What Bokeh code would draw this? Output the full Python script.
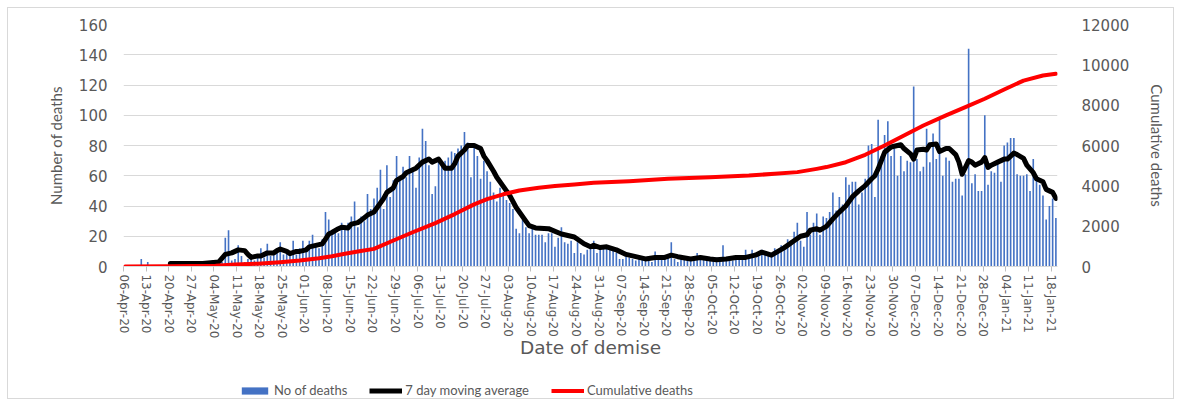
import pandas as pd
from bokeh.plotting import figure
from bokeh.layouts import column
from bokeh.models import (Range1d, LinearAxis, FixedTicker, DatetimeTickFormatter,
                          Legend, LegendItem)
from bokeh.embed import file_html
from bokeh.resources import INLINE

# ---------------- data ----------------
start_date = "2020-04-06"

# daily number of deaths, one value per day from 06-Apr-20
daily_deaths = [
    0, 0, 0, 0, 0, 5, 1,
    3, 0, 0, 0, 0, 1, 0,
    2, 1, 2, 3, 1, 2, 2,
    2, 1, 3, 2, 2, 1, 4,
    3, 2, 3, 19, 24, 4, 5,
    14, 7, 3, 5, 6, 4, 8,
    12, 6, 15, 7, 10, 9, 16,
    8, 9, 7, 17, 8, 12, 17,
    10, 17, 21, 13, 12, 18, 36,
    31, 24, 25, 22, 29, 27, 29,
    33, 43, 26, 33, 30,
    48, 38, 45, 52, 64, 38, 67, 46, 57, 73,
    59, 66, 59, 73, 64, 52, 72, 91, 83, 67,
    48, 53, 71, 66, 70, 72, 76, 75, 78, 80,
    89, 82, 59, 81, 73, 58, 70, 63, 56, 49,
    43, 52, 47, 44, 42, 38, 25, 22, 31, 26,
    22, 26, 21, 21, 21, 16, 22, 22, 13, 19,
    26, 16, 15, 17, 9, 16, 9, 8, 11,
    13, 17, 9, 13, 12, 13, 13, 11, 9, 5,
    5, 8, 6, 5, 4, 6, 7, 6, 4, 3,
    10, 5, 6, 5, 6, 16, 5, 3, 7, 6,
    6, 4, 5, 9, 6, 5, 4, 5, 4, 6,
    4, 14, 4, 5, 4, 5, 6, 6, 11, 7,
    11, 6, 8, 11, 9, 7, 9, 12, 11, 14,
    12, 18, 17, 23, 29, 17, 13, 36, 21, 29,
    35, 21, 33,
    32, 36, 49, 37, 46, 41, 59, 54, 56, 56,
    41, 49, 58, 80, 81, 46, 97, 73, 87, 96,
    73, 78, 60, 73, 63, 70, 69, 119, 71, 63,
    66, 91, 69, 88, 71, 97, 60, 72, 70, 56,
    58, 58, 47, 61, 144, 55, 61, 50, 50, 100,
    54, 63, 62, 69, 56, 80, 82, 85, 85, 61,
    60, 60, 61, 50, 71, 57, 54, 47, 31, 40,
    45, 32,
]

# 7 day moving average, read at these days (days since 06-Apr-20)
ma_day = [14, 19, 24, 29, 31, 33, 35, 37, 38, 39,
          41, 42, 44, 46, 47, 48, 50, 51, 53, 54,
          56, 57, 59, 61, 62, 63, 64, 66, 67, 69,
          70, 72, 73, 75, 77, 78, 80, 81, 83, 84,
          86, 87, 89, 90, 92, 94, 95, 97, 98, 99,
          101, 102, 103, 105, 106, 108, 110, 111, 112, 114,
          115, 118, 119, 121, 124, 125, 127, 131, 135, 137,
          139, 142, 144, 145, 147, 149, 152, 155, 158, 161,
          164, 167, 169, 171, 175, 178, 181, 183, 186, 189,
          192, 195, 197, 200, 202, 204, 207, 209, 211, 212,
          214, 215, 217, 219, 221, 223, 225, 227, 229, 231,
          232, 233, 234, 235, 237, 238, 240, 241, 243, 244,
          245, 247, 248, 249, 251, 252, 254, 255, 257, 258,
          259, 261, 262, 263, 265, 266, 267, 268, 270, 272,
          273, 275, 276, 278, 279, 281, 282, 284, 285, 287,
          288]
ma_value = [2, 2, 2, 3, 8, 9, 11, 10.5, 8, 6,
            7, 7, 9, 9, 10.5, 11.5, 10, 8.5, 10, 10,
            11, 13, 14, 15, 18, 21.5, 22.5, 25, 26, 25.5,
            28, 29, 30.5, 34, 36, 39, 45, 49, 52, 57,
            59.5, 62, 64, 65, 69, 71, 69, 71, 68, 65,
            65, 68, 73, 77, 80, 80, 78, 73, 70, 63,
            59, 50, 47, 39, 30, 27, 25.5, 25, 21.5, 20.5,
            19.5, 15, 13, 14, 12.5, 13, 11, 8, 6.5, 5,
            6, 6, 7.5, 6.5, 5, 6, 5, 4.5, 5, 6,
            6, 7.5, 9.5, 7.5, 10, 12.5, 17, 20, 21, 24,
            25, 24, 26.5, 31.5, 36, 40, 46, 50, 53.5, 58,
            60, 64.5, 70, 75.5, 79, 79.5, 80.5, 78, 74.5, 71,
            77, 77.5, 77, 80.5, 81, 76, 78, 78, 74, 69,
            61, 70, 69, 67, 69, 72, 65.5, 67, 69, 71,
            71, 75, 74, 71.5, 67, 62, 58, 56, 51, 49,
            45]

# cumulative deaths (right axis), read at these days (days since 06-Apr-20)
cum_day = [0, 14, 28, 34, 41, 48, 54, 60, 64, 68,
           72, 77, 83, 89, 96, 102, 108, 112, 117, 122,
           128, 133, 139, 145, 156, 168, 181, 193, 201, 208,
           214, 217, 223, 229, 235, 241, 247, 254, 260, 266,
           272, 278, 284, 288]
cum_value = [0, 15, 40, 100, 140, 215, 300, 410, 510, 630,
             745, 875, 1290, 1700, 2150, 2600, 3080, 3340, 3580, 3770,
             3910, 3990, 4070, 4150, 4230, 4350, 4430, 4510, 4600, 4680,
             4840, 4930, 5170, 5540, 6000, 6500, 6990, 7490, 7900, 8320,
             8780, 9220, 9470, 9560]

left_ticks = [0, 20, 40, 60, 80, 100, 120, 140, 160]
right_ticks = [0, 2000, 4000, 6000, 8000, 10000, 12000]
series_names = ["No of deaths", "7 day moving average", "Cumulative deaths"]

# ---------------- build ----------------
DAY = 86400000.0
t0 = pd.Timestamp(start_date)
t0_ms = t0.timestamp() * 1000.0
n_days = len(daily_deaths)

bar_x = [t0_ms + (i + 0.5) * DAY for i in range(n_days)]
ma_x = [t0_ms + (d + 0.5) * DAY for d in ma_day]
cum_x = [t0_ms + (d + 0.5) * DAY for d in cum_day]
tick_dates = [t0_ms + d * DAY for d in range(0, n_days, 7)]

GRAY = "#595959"
BLUE = "#4472C4"
RED = "#FF0000"
W = 1165

fig = figure(width=W, height=362, output_backend="svg", toolbar_location=None,
             x_axis_type="datetime",
             x_range=Range1d(t0_ms, t0_ms + n_days * DAY),
             y_range=Range1d(0, 160),
             min_border_left=115, min_border_right=116,
             min_border_top=16, min_border_bottom=104)
fig.outline_line_color = None
fig.background_fill_color = "white"
fig.border_fill_color = "white"
fig.extra_y_ranges = {"cum": Range1d(0, 12000)}

fig.vbar(x=bar_x, top=daily_deaths, width=0.5 * DAY, fill_color=BLUE, line_color=None)
fig.line(ma_x, ma_value, line_color="black", line_width=5,
         line_join="round", line_cap="round")
fig.line(cum_x, cum_value, y_range_name="cum", line_color=RED,
         line_width=4, line_join="round", line_cap="round")

# x axis
xa = fig.xaxis[0]
xa.ticker = FixedTicker(ticks=tick_dates)
xa.formatter = DatetimeTickFormatter(days="%d-%b-%y", months="%d-%b-%y",
                                     years="%d-%b-%y", hours="%d-%b-%y",
                                     hourmin="%d-%b-%y")
xa.major_label_orientation = "vertical"
xa.major_label_text_font = "DejaVu Sans"
xa.major_label_text_font_size = "12px"
xa.major_label_text_color = GRAY
xa.major_label_standoff = 3
xa.axis_line_color = "#D9D9D9"
xa.major_tick_line_color = "#BFBFBF"
xa.major_tick_out = 5
xa.major_tick_in = 0
xa.minor_tick_line_color = None
xa.axis_label = "Date of demise"
xa.axis_label_text_font = "DejaVu Sans"
xa.axis_label_text_font_size = "18.5px"
xa.axis_label_text_font_style = "normal"
xa.axis_label_text_color = GRAY
xa.axis_label_standoff = -4

# left axis
ya = fig.yaxis[0]
ya.ticker = FixedTicker(ticks=left_ticks)
ya.axis_line_color = None
ya.major_tick_line_color = None
ya.minor_tick_line_color = None
ya.major_label_text_font = "DejaVu Sans"
ya.major_label_text_font_size = "15px"
ya.major_label_text_color = GRAY
ya.major_label_standoff = 10
ya.axis_label = "Number of deaths"
ya.axis_label_text_font = "Lato"
ya.axis_label_text_font_size = "15px"
ya.axis_label_text_font_style = "normal"
ya.axis_label_text_color = GRAY
ya.axis_label_standoff = 11

# right axis
ra = LinearAxis(y_range_name="cum", ticker=FixedTicker(ticks=right_ticks))
ra.axis_line_color = None
ra.major_tick_line_color = None
ra.minor_tick_line_color = None
ra.major_label_text_font = "DejaVu Sans"
ra.major_label_text_font_size = "15px"
ra.major_label_text_color = GRAY
ra.major_label_standoff = 18
ra.axis_label = "Cumulative deaths"
ra.axis_label_text_font = "Lato"
ra.axis_label_text_font_size = "15px"
ra.axis_label_text_font_style = "normal"
ra.axis_label_text_color = GRAY
ra.axis_label_standoff = 16
fig.add_layout(ra, "right")

fig.xgrid.grid_line_color = None
fig.ygrid.grid_line_color = "#D9D9D9"
fig.ygrid.grid_line_width = 1

# ---------------- legend strip ----------------
# the legend sits under the chart in its own strip; its sample renderers reuse the
# first data points but lie outside this strip's 0..1 ranges, so they are not drawn
leg = figure(width=W, height=28, output_backend="svg", toolbar_location=None,
             x_range=Range1d(0, 1), y_range=Range1d(0, 1),
             x_axis_location=None, y_axis_location=None,
             min_border=0)
leg.outline_line_color = None
leg.grid.grid_line_color = None
leg.background_fill_color = "white"
leg.border_fill_color = "white"
r_bar = leg.vbar(x=bar_x[:1], top=daily_deaths[:1], width=0.5 * DAY,
                 fill_color=BLUE, line_color=None)
r_ma = leg.line(x=ma_x[:2], y=ma_value[:2], line_color="black", line_width=5)
r_cum = leg.line(x=cum_x[:2], y=cum_value[:2], line_color=RED, line_width=4)

legend = Legend(items=[
    LegendItem(label=series_names[0], renderers=[r_bar]),
    LegendItem(label=series_names[1], renderers=[r_ma]),
    LegendItem(label=series_names[2], renderers=[r_cum]),
], orientation="horizontal", location=(115, 0))
legend.label_text_font = "Lato"
legend.label_text_font_size = "13px"
legend.label_text_color = GRAY
legend.glyph_width = 33
legend.glyph_height = 9
legend.label_standoff = 3
legend.spacing = 22
legend.padding = 0
legend.margin = 0
legend.border_line_color = None
legend.background_fill_alpha = 0
leg.add_layout(legend)

p = column(fig, leg, spacing=0)
p.styles = {"border": "1px solid #D9D9D9", "margin-left": "7px", "margin-top": "7px"}

open("out.html", "w").write(file_html(p, INLINE))
